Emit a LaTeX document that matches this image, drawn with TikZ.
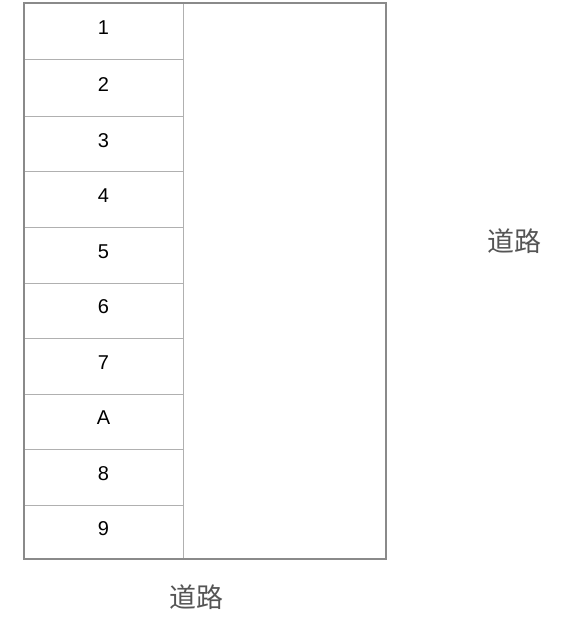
\documentclass[tikz,border=0pt]{standalone}
\usepackage{fontspec}
\setmainfont{Liberation Sans}
\newfontfamily\cjk{Noto Sans CJK SC}
\definecolor{cellline}{HTML}{B0B0B0}
\definecolor{outline}{HTML}{8A8A8A}
\definecolor{roadtext}{HTML}{555555}
\begin{document}
\begin{tikzpicture}[x=1pt,y=-1pt,
  cellbox/.style={draw=cellline,line width=1pt},
  celllabel/.style={font=\fontsize{20}{24}\selectfont,text=black,inner sep=0pt},
  roadlabel/.style={font=\cjk\fontsize{27}{31}\selectfont,text=roadtext,inner sep=0pt}]
\useasboundingbox (0,0) rectangle (563,626);
\fill[white] (0,0) rectangle (563,626);
% left column cells
\def\ys{{3,60,116,171,227,283,338,394,449,505,559}}
\foreach \i in {0,...,9}{
  \pgfmathsetmacro\ya{\ys[\i]}
  \pgfmathsetmacro\yb{\ys[\i+1]}
  \draw[cellbox] (24,\ya) rectangle (183,\yb);
}
% outer rectangle
\draw[draw=outline,line width=1.6pt] (24,3) rectangle (386,559);
% labels
\node[celllabel] (c1) at (103.5,28) {1};
\node[celllabel] (c2) at (103.5,85) {2};
\node[celllabel] (c3) at (103.5,140.5) {3};
\node[celllabel] (c4) at (103.5,196) {4};
\node[celllabel] (c5) at (103.5,251.5) {5};
\node[celllabel] (c6) at (103.5,307) {6};
\node[celllabel] (c7) at (103.5,362.5) {7};
\node[celllabel] (cA) at (103.5,418) {A};
\node[celllabel] (c8) at (103.5,473.5) {8};
\node[celllabel] (c9) at (103.5,529) {9};
\node[roadlabel] (roadR) at (514.5,241.5) {道路};
\node[roadlabel] (roadB) at (196,597) {道路};
\end{tikzpicture}
\end{document}
